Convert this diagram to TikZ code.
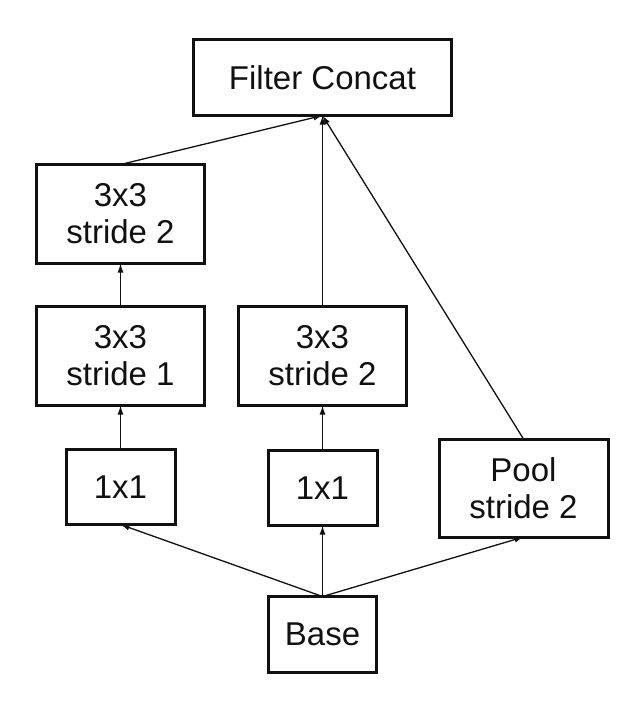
\documentclass[tikz,border=0pt]{standalone}
\usepackage{fontspec}
\setmainfont{Liberation Sans}
\usetikzlibrary{arrows.meta, positioning}
\definecolor{ink}{HTML}{111111}
\tikzset{
  blk/.style   = {draw=ink, line width=3pt, outer sep=0pt, inner sep=0pt,
                  align=center, text=ink,
                  font=\fontsize{33}{37}\selectfont},
  tall/.style  = {blk, minimum width=168pt, minimum height=99pt},
  small/.style = {blk, minimum width=109pt, minimum height=75pt},
  arr/.style   = {-{Latex[length=9pt, width=6pt]}, line width=1.3pt, ink},
}
\begin{document}
\begin{tikzpicture}[x=1pt, y=1pt]
  \useasboundingbox (0,0) rectangle (640,-701);

  % input
  \node[blk, minimum width=108pt, minimum height=76pt]
    (base) at (322.5,-634.5) {Base};

  % middle branch
  \node[small, above=71pt of base] (mid1x1) {1x1};
  \node[tall,  above=45pt of mid1x1] (mid3x3) {3x3\\stride 2};

  % left branch
  \node[tall,  left=34pt of mid3x3] (left3x3a) {3x3\\stride 1};
  \node[tall,  above=43pt of left3x3a] (left3x3b) {3x3\\stride 2};
  \node[small, below=44pt of left3x3a] (left1x1) {1x1};

  % pooling branch
  \node[tall, minimum width=169pt, minimum height=98pt,
        right=62pt of mid1x1] (pool) {Pool\\stride 2};

  % output
  \node[blk, minimum width=258pt, minimum height=76pt,
        above=191pt of mid3x3] (concat) {Filter Concat};

  \draw[arr] (base.north) -- (left1x1.south);
  \draw[arr] (base.north) -- (mid1x1.south);
  \draw[arr] (base.north) -- (pool.south);

  \draw[arr] (left1x1) -- (left3x3a);
  \draw[arr] (left3x3a) -- (left3x3b);
  \draw[arr] (mid1x1) -- (mid3x3);

  \draw[arr] (left3x3b.north) -- (concat.south);
  \draw[arr] (mid3x3.north) -- (concat.south);
  \draw[arr] (pool.north) -- (concat.south);

\end{tikzpicture}
\end{document}
